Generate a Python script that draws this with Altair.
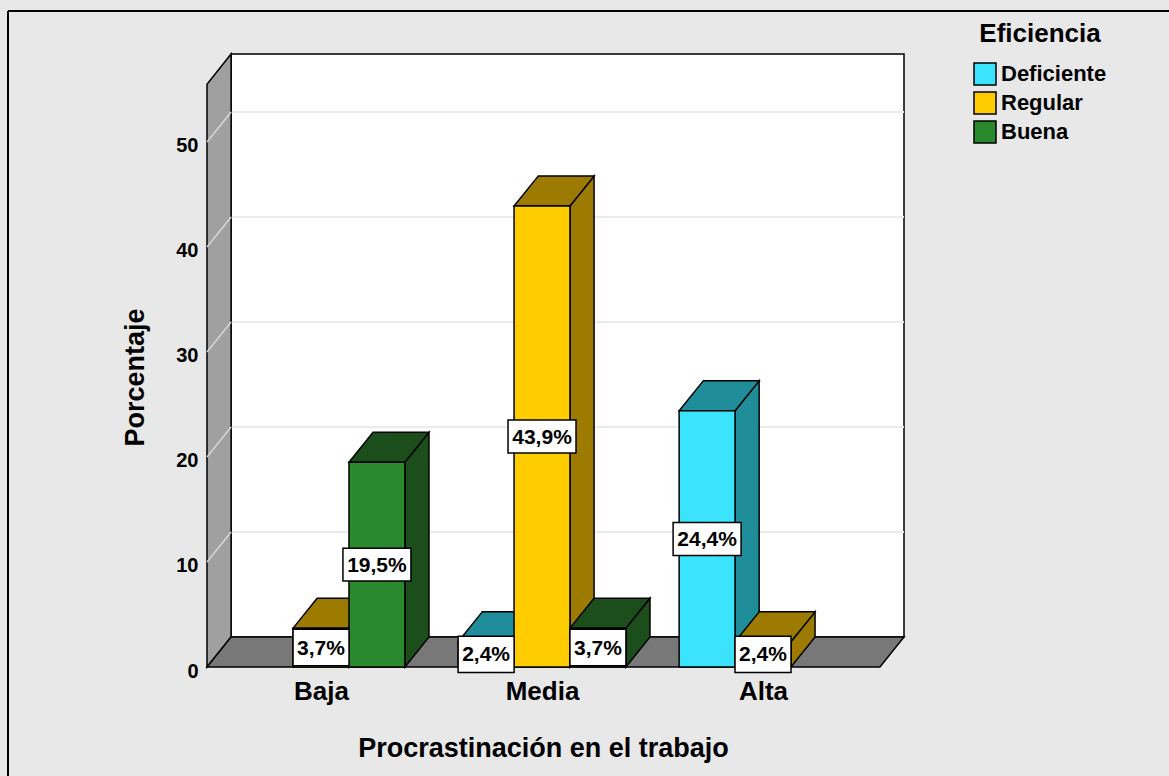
import altair as alt
import pandas as pd

# ---------------- data ----------------
categories = ["Baja", "Media", "Alta"]
series = ["Deficiente", "Regular", "Buena"]
# percentage per category, in series order (None = no bar)
pct_baja = [None, 3.7, 19.5]
pct_media = [2.4, 43.9, 3.7]
pct_alta = [24.4, 2.4, None]
y_ticks = [0, 10, 20, 30, 40, 50]

front_colors = ["#3be3fd", "#ffcc00", "#2a882d"]
dark_colors = ["#208d9b", "#9d7a00", "#1b4e1b"]

# ---------------- geometry (category units / percent units) ----------------
W = 0.253        # slot width
DX = 0.109       # 3D depth along x
DY = 2.85        # 3D depth along y
X_LEFT = -0.516
X_RIGHT_FRONT = 2.529
X_MAX = 2.638
Y_MAX = 58.38
WALL_TOP = 55.5

values = [pct_baja, pct_media, pct_alta]
bars, sides, tops = [], [], []
bid = 0
for ci, cat in enumerate(categories):
    for si, s in enumerate(series):
        h = values[ci][si]
        if h is None:
            continue
        x0 = ci + (si - 1) * W - W / 2
        x1 = x0 + W
        lab = f"{h:.1f}%".replace(".", ",")
        bars.append(dict(id=bid, cat=cat, series=s, h=h, x0=x0, x1=x1,
                         xc=(x0 + x1) / 2, yc=h / 2, label=lab, nch=len(lab)))
        sides.append(dict(id=bid, series=s, xs=x1, ylo=0.0, yhi=h))
        sides.append(dict(id=bid, series=s, xs=x1 + DX, ylo=DY, yhi=h + DY))
        tops.append(dict(id=bid, series=s, yt=h, xa=x0, xb=x1))
        tops.append(dict(id=bid, series=s, yt=h + DY, xa=x0 + DX, xb=x1 + DX))
        bid += 1

bars_df = pd.DataFrame(bars)
sides_df = pd.DataFrame(sides)
tops_df = pd.DataFrame(tops)

wall_df = pd.DataFrame([dict(x=X_LEFT + DX, x2=X_MAX, y=DY, y2=Y_MAX)])
left_df = pd.DataFrame([dict(x=X_LEFT, ylo=0.0, yhi=WALL_TOP),
                        dict(x=X_LEFT + DX, ylo=DY, yhi=Y_MAX)])
floor_df = pd.DataFrame([dict(y=0.0, xa=X_LEFT, xb=X_RIGHT_FRONT),
                         dict(y=DY, xa=X_LEFT + DX, xb=X_MAX)])
grid_df = pd.DataFrame([dict(t=t, tb=t + DY, xf=X_LEFT, xb=X_LEFT + DX, xr=X_MAX)
                        for t in y_ticks[1:]])
dummy = pd.DataFrame({"a": [0]})

# ---------------- scales & axes ----------------
FONT = "Liberation Sans"
xscale = alt.Scale(domain=[X_LEFT, X_MAX], nice=False, zero=False)
yscale = alt.Scale(domain=[0, Y_MAX], nice=False, zero=False)
xaxis = alt.Axis(values=[0, 1, 2], labelExpr=f"{categories}[datum.value]",
                 title="Procrastinación en el trabajo", grid=False, domain=False,
                 ticks=False, labelFont=FONT, labelFontSize=26, labelFontWeight="bold",
                 labelColor="black", labelPadding=11, titleFont=FONT, titleFontSize=27,
                 titleFontWeight="bold", titleColor="black", titleX=336, titleY=89,
                 titleBaseline="alphabetic", titleAnchor="start", titleAlign="center")
yaxis = alt.Axis(values=y_ticks, title="Porcentaje", grid=False, domain=False, ticks=False,
                 labelFont=FONT, labelFontSize=20, labelFontWeight="bold", labelColor="black",
                 labelPadding=9, labelOffset=4, titleFont=FONT, titleFontSize=27,
                 titleFontWeight="bold", titleColor="black", titleAngle=270,
                 titleX=-64, titleY=323, titleBaseline="alphabetic", titleAlign="center")


def X(f):
    return alt.X(f"{f}:Q", scale=xscale, axis=xaxis)


def Y(f):
    return alt.Y(f"{f}:Q", scale=yscale, axis=yaxis)


dark = alt.Scale(domain=series, range=dark_colors)

back_wall = alt.Chart(wall_df).mark_rect(fill="white", stroke="black", strokeWidth=1.5).encode(
    x=X("x"), x2="x2", y=Y("y"), y2="y2")

back_grid = alt.Chart(grid_df).mark_rule(color="#ebebeb", strokeWidth=2).encode(
    x=X("xb"), x2="xr", y=Y("tb"))

left_wall = alt.Chart(left_df).mark_area(orient="vertical", fill="#a0a0a0", stroke="black",
                                         strokeWidth=1.5, opacity=1).encode(
    x=X("x"), y=Y("ylo"), y2="yhi")

left_grid = alt.Chart(grid_df).mark_rule(color="#d6d6d6", strokeWidth=1.5).encode(
    x=X("xf"), x2="xb", y=Y("t"), y2="tb")

floor = alt.Chart(floor_df).mark_area(orient="horizontal", fill="#787878", stroke="black",
                                      strokeWidth=1.5, opacity=1).encode(
    y=Y("y"), x=X("xa"), x2="xb")

side_faces = alt.Chart(sides_df).mark_area(orient="vertical", stroke="black", strokeWidth=1.5,
                                           opacity=1).encode(
    x=X("xs"), y=Y("ylo"), y2="yhi", detail="id:N",
    fill=alt.Fill("series:N", scale=dark, legend=None))

top_faces = alt.Chart(tops_df).mark_area(orient="horizontal", stroke="black", strokeWidth=1.5,
                                         opacity=1).encode(
    y=Y("yt"), x=X("xa"), x2="xb", detail="id:N",
    fill=alt.Fill("series:N", scale=dark, legend=None))

front_faces = alt.Chart(bars_df).mark_rect(stroke="black", strokeWidth=1.5).encode(
    x=X("x0"), x2="x1", y=Y("h"), y2=alt.Y2(datum=0),
    fill=alt.Fill("series:N", scale=alt.Scale(domain=series, range=front_colors),
                  legend=alt.Legend(title="Eficiencia", orient="none", legendX=766, legendY=-33,
                                    titleFont=FONT, titleFontSize=26, titleFontWeight="bold",
                                    titleColor="black", titleAnchor="middle", titlePadding=15,
                                    labelFont=FONT, labelFontSize=22, labelFontWeight="bold",
                                    labelColor="black", labelOffset=4, symbolType="square",
                                    symbolSize=484, symbolStrokeColor="black",
                                    symbolStrokeWidth=1.5, symbolOpacity=1, rowPadding=1)))

BOX5 = "M-1,-0.485L1,-0.485L1,0.485L-1,0.485Z"
BOX4 = "M-1,-0.65L1,-0.65L1,0.65L-1,0.65Z"
box5 = alt.Chart(bars_df).transform_filter("datum.nch >= 5").mark_point(
    shape=BOX5, size=68 * 68, filled=True, fill="white", stroke="black", strokeWidth=1.5,
    opacity=1).encode(x=X("xc"), y=Y("yc"))
box4 = alt.Chart(bars_df).transform_filter("datum.nch < 5").mark_point(
    shape=BOX4, size=56 * 56, filled=True, fill="white", stroke="black", strokeWidth=1.5,
    opacity=1).encode(x=X("xc"), y=Y("yc"))
texts = alt.Chart(bars_df).mark_text(font=FONT, fontSize=21, fontWeight="bold",
                                     color="black", baseline="middle", align="center", dy=1).encode(
    x=X("xc"), y=Y("yc"), text="label:N")

border_left = alt.Chart(dummy).mark_rule(color="black", strokeWidth=2).encode(
    x=alt.value(-199), y=alt.value(-43), y2=alt.value(730))
border_top = alt.Chart(dummy).mark_rule(color="black", strokeWidth=2).encode(
    x=alt.value(-199), x2=alt.value(970), y=alt.value(-43))

chart = alt.layer(
    border_left, border_top, back_wall, back_grid, left_wall, left_grid, floor,
    side_faces, top_faces, front_faces, box5, box4, texts
).resolve_scale(fill="independent").properties(
    width=697, height=613, background="#e8e8e8",
    autosize=alt.AutoSizeParams(type="none"),
    padding={"left": 207, "top": 54, "right": 265, "bottom": 109},
).configure_view(strokeWidth=0, fill=None)

chart.save("out.html", embed_options={"renderer": "svg", "actions": False})
